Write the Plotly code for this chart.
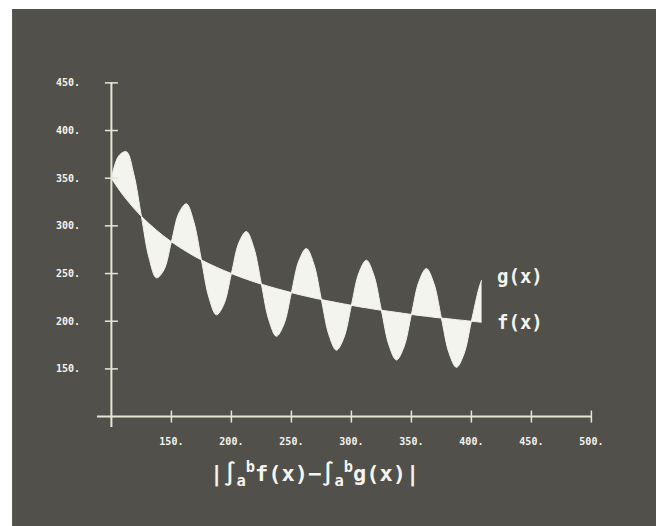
import plotly.graph_objects as go

# ---- data ----
x_vals = [100, 106.25, 112.5, 118.75, 125, 131.25, 137.5, 143.75, 150, 156.25,
          162.5, 168.75, 175, 181.25, 187.5, 193.75, 200, 206.25, 212.5, 218.75,
          225, 231.25, 237.5, 243.75, 250, 256.25, 262.5, 268.75, 275, 281.25,
          287.5, 293.75, 300, 306.25, 312.5, 318.75, 325, 331.25, 337.5, 343.75,
          350, 356.25, 362.5, 368.75, 375, 381.25, 387.5, 393.75, 400, 406.25, 408.5]
f_vals = [350, 338.2, 327.8, 318.4, 310, 302.4, 295.5, 289.1, 283.3, 278,
          273.1, 268.5, 264.3, 260.3, 256.7, 253.2, 250, 247, 244.1, 241.4,
          238.9, 236.5, 234.2, 232.1, 230, 228, 226.2, 224.4, 222.7, 221.1,
          219.6, 218.1, 216.7, 215.3, 214, 212.7, 211.5, 210.4, 209.3, 208.2,
          207.1, 206.1, 205.2, 204.2, 203.3, 202.5, 201.6, 200.8, 200, 199.2, 199]
g_vals = [350, 373.6, 377.8, 353.8, 310, 267, 245.5, 253.8, 283.3, 313.4,
          323.1, 303.9, 264.3, 225, 206.7, 217.9, 250, 282.4, 294.1, 276.8,
          238.9, 201.1, 184.2, 196.7, 230, 263.4, 276.2, 259.8, 222.7, 185.7,
          169.6, 182.7, 216.7, 250.7, 264, 248.1, 211.5, 175, 159.3, 172.8,
          207.1, 241.5, 255.2, 239.6, 203.3, 167.1, 151.6, 165.4, 200, 234.6, 243]
x_ticks = [150, 200, 250, 300, 350, 400, 450, 500]
x_tick_labels = ["150.", "200.", "250.", "300.", "350.", "400.", "450.", "500."]
y_ticks = [150, 200, 250, 300, 350, 400, 450]
y_tick_labels = ["150.", "200.", "250.", "300.", "350.", "400.", "450."]
series_names = ["f(x)", "g(x)"]
axis_title = "|∫<sub>a</sub><sup>b</sup>f(x)−∫<sub>a</sub><sup>b</sup>g(x)|"

# ---- style ----
W, H = 656, 526
BG = "#51504a"
INK = "#f4f4ee"
AXIS = "#e6e6d6"
MONO = "DejaVu Sans Mono"

X_RANGE = [88, 503]
Y_RANGE = [88, 453]
ML, MT = 97, 80
plot_w, plot_h = 498.4, 348.2
MR = W - ML - plot_w
MB = H - MT - plot_h


def px_to_paper_x(px):
    return (px - ML) / plot_w


def px_to_paper_y(py):
    return (H - MB - py) / plot_h


fig = go.Figure()
fig.add_trace(go.Scatter(x=x_vals, y=f_vals, mode="lines", name=series_names[0],
                         line=dict(color=INK, width=1, shape="spline"),
                         showlegend=False, hoverinfo="skip"))
fig.add_trace(go.Scatter(x=x_vals, y=g_vals, mode="lines", name=series_names[1],
                         line=dict(color=INK, width=1, shape="spline"),
                         fill="tonexty", fillcolor=INK,
                         showlegend=False, hoverinfo="skip"))

shapes = []
# white photo border (left and top), the rest of the paper is the dark screen
shapes.append(dict(type="rect", xref="paper", yref="paper", layer="below",
                   x0=px_to_paper_x(-2), x1=px_to_paper_x(12),
                   y0=px_to_paper_y(H + 2), y1=px_to_paper_y(-2),
                   fillcolor="#ffffff", line=dict(width=0)))
shapes.append(dict(type="rect", xref="paper", yref="paper", layer="below",
                   x0=px_to_paper_x(-2), x1=px_to_paper_x(W + 2),
                   y0=px_to_paper_y(9), y1=px_to_paper_y(-2),
                   fillcolor="#ffffff", line=dict(width=0)))
# axes lines
shapes.append(dict(type="line", xref="x", yref="y", x0=X_RANGE[0] - 0.5, x1=500,
                   y0=100, y1=100, line=dict(color=AXIS, width=2), layer="above"))
shapes.append(dict(type="line", xref="x", yref="y", x0=100, x1=100,
                   y0=Y_RANGE[0] + 1, y1=451, line=dict(color=AXIS, width=2), layer="above"))
# tick crosses
for tv in x_ticks:
    shapes.append(dict(type="line", xref="x", yref="y", x0=tv, x1=tv,
                       ysizemode="pixel", yanchor=100, y0=-6, y1=6,
                       line=dict(color=AXIS, width=1.5), layer="above"))
for tv in y_ticks:
    shapes.append(dict(type="line", xref="x", yref="y", y0=tv, y1=tv,
                       xsizemode="pixel", xanchor=100, x0=-6.5, x1=6.5,
                       line=dict(color=AXIS, width=1.5), layer="above"))

annotations = [
    dict(x=px_to_paper_x(315), y=px_to_paper_y(474), xref="paper", yref="paper",
         text=axis_title, showarrow=False, xanchor="center", yanchor="middle",
         font=dict(family=MONO, size=22, color=INK, weight="bold")),
    dict(x=420, y=g_vals[-1] + 4, xref="x", yref="y", text=series_names[1],
         showarrow=False, xanchor="left", yanchor="middle",
         font=dict(family=MONO, size=19, color=INK, weight="bold")),
    dict(x=420, y=f_vals[-1], xref="x", yref="y", text=series_names[0],
         showarrow=False, xanchor="left", yanchor="middle",
         font=dict(family=MONO, size=19, color=INK, weight="bold")),
]

fig.update_layout(
    width=W, height=H,
    margin=dict(l=ML, r=MR, t=MT, b=MB, pad=0),
    paper_bgcolor=BG,
    plot_bgcolor="rgba(0,0,0,0)",
    shapes=shapes,
    annotations=annotations,
    xaxis=dict(range=X_RANGE, showgrid=False, zeroline=False, showline=False,
               tickvals=x_ticks, ticktext=x_tick_labels, ticks="",
               ticklabelstandoff=6,
               tickfont=dict(family=MONO, size=10, color=INK, weight="bold")),
    yaxis=dict(range=Y_RANGE, showgrid=False, zeroline=False, showline=False,
               tickvals=y_ticks, ticktext=y_tick_labels, ticks="",
               ticklabelstandoff=16,
               tickfont=dict(family=MONO, size=10, color=INK, weight="bold")),
)

# place the figure at the page's top-left corner (no default body margin)
fig.write_html("out.html",
               config={"displayModeBar": False, "staticPlot": True},
               post_script="document.body.style.margin='0';document.body.style.overflow='hidden';")
